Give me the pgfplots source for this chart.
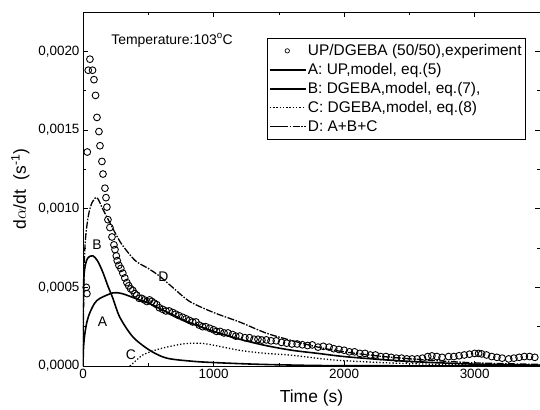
\documentclass[border=0pt]{standalone}
\usepackage{pgfplots}
\pgfplotsset{compat=1.18}
\usepackage{fontspec}
\setmainfont{Liberation Sans}
\begin{document}
\begin{tikzpicture}
\begin{axis}[name=ax, scale only axis, width=457bp, height=354bp,
  xmin=0, xmax=3500, ymin=0, ymax=0.00225,
  xtick={0,1000,2000,3000}, minor x tick num=1,
  ytick={0,0.0005,0.001,0.0015,0.002}, minor y tick num=1,
  scaled y ticks=false,
  xticklabel style={/pgf/number format/.cd, 1000 sep={}},
  yticklabel style={/pgf/number format/.cd, fixed, fixed zerofill, precision=4, use comma},
  /pgf/number format/assume math mode=true,
  ticklabel style={font=\fontsize{13.5}{15}\selectfont},
  tick align=inside, major tick length=5bp, minor tick length=3bp,
  axis line style={line width=0.8pt}, every tick/.style={line width=0.7pt, black},
  xlabel={Time (s)}, ylabel={d$\alpha$/dt\ \ (s\textsuperscript{-1})},
  label style={font=\fontsize{17.5}{19}\selectfont},
  xlabel style={yshift=-4bp},
  ylabel style={yshift=2bp},
  legend style={at={(0.969,0.927)}, anchor=north east, draw=black,
     font=\fontsize{15.5}{17}\selectfont, row sep=2.3pt, inner xsep=2pt, inner ysep=4.5pt, cells={anchor=west}},
  legend image code/.code={\draw[mark repeat=2,mark phase=2,#1] plot coordinates {(0cm,0cm) (0.62cm,0cm) (1.25cm,0cm)};},
  legend cell align=left,
]
\addlegendimage{only marks, mark=o, mark size=2.2pt, line width=0.7pt}
\addlegendentry{UP/DGEBA (50/50),experiment}
\addplot[only marks, mark=o, mark size=3.4pt, line width=0.9pt, mark options={fill=white}, forget plot] coordinates {
(25,0.0005)(30,0.00046)(33,0.00136)(40,0.00188)(53,0.00195)(73,0.00188)(84,0.00182)(96,0.00172)(107,0.00158)(122,0.00149)(130,0.0014)(145,0.0013)(153,0.00122)(168,0.00113)(176,0.00107)(183,0.00101)(191,0.00093)(206,0.00088)(222,0.00082)(237,0.00077)(245,0.00074)(255,0.0007)(262,0.00067)(275,0.00064)(290,0.00062)(305,0.00059)(320,0.00056)(336,0.00053)(350,0.00051)(365,0.00049)(382,0.00048)(397,0.00046)(412,0.00045)(430,0.00043)(450,0.00043)(470,0.00042)(489,0.00041)(510,0.00042)(527,0.00041)(545,0.0004)(565,0.00039)(585,0.00037)(611,0.00036)(635,0.00035)(660,0.00035)(687,0.00034)(710,0.00033)(735,0.00032)(763,0.00031)(790,0.0003)(815,0.00029)(840,0.00028)(865,0.00028)(890,0.00026)(916,0.00025)(940,0.00025)(970,0.00024)(1000,0.00023)(1023,0.00022)(1050,0.00022)(1080,0.00021)(1110,0.00021)(1145,0.0002)(1170,0.00019)(1200,0.00019)(1240,0.00018)(1275,0.00018)(1310,0.00017)(1340,0.00017)(1370,0.000165)(1404,0.000166)(1440,0.00016)(1480,0.00016)(1520,0.00015)(1560,0.000145)(1600,0.00014)(1640,0.00014)(1680,0.000135)(1720,0.00013)(1756,0.000134)(1800,0.00012)(1840,0.000125)(1885,0.00012)(1920,0.00011)(1960,0.000105)(2000,0.0001)(2040,0.00009)(2080,0.00009)(2120,0.00008)(2160,0.00008)(2200,0.00007)(2240,0.00007)(2280,0.00006)(2320,0.00006)(2360,0.000055)(2400,0.00005)(2440,0.00005)(2480,0.000045)(2520,0.000045)(2560,0.000045)(2600,0.00005)(2640,0.00006)(2672,0.000064)(2710,0.00006)(2750,0.000055)(2800,0.00006)(2840,0.00006)(2880,0.000065)(2920,0.00007)(2960,0.000075)(3000,0.00008)(3030,0.00008)(3053,0.000077)(3090,0.00007)(3130,0.00006)(3170,0.000055)(3210,0.00005)(3260,0.000045)(3300,0.00005)(3340,0.000055)(3380,0.00006)(3420,0.00006)(3460,0.000055)
};
\addplot[black, line width=1.6pt, smooth] coordinates {
(0,0)(3,0.0001)(8,0.00016)(15,0.00021)(30,0.00028)(53,0.00034)(90,0.0004)(130,0.00043)(230,0.000465)(300,0.00046)(400,0.00043)(500,0.0004)(600,0.00036)(700,0.00032)(800,0.00028)(900,0.00025)(1000,0.00022)(1200,0.00017)(1400,0.00013)(1600,0.0001)(1800,0.00008)(2000,0.00006)(2300,0.00004)(2600,0.000025)(3000,0.000012)(3500,0.000005)
};
\addlegendentry{A: UP,model, eq.(5)}
\addplot[black, line width=1.6pt, smooth] coordinates {
(0,0)(1,0.0003)(3,0.00048)(8,0.00058)(20,0.00065)(40,0.00069)(76,0.0007)(110,0.00067)(150,0.0006)(190,0.00051)(229,0.00043)(282,0.00031)(382,0.000185)(511,0.0001)(641,0.00005)(840,0.00003)(1000,0.000022)(1300,0.000012)(1600,0.000006)(2000,0.000002)(3500,0)
};
\addlegendentry{B: DGEBA,model, eq.(7),}
\addplot[black, line width=1.3pt, dotted, smooth] coordinates {
(359,0)(400,0.00003)(458,0.00007)(550,0.0001)(641,0.00012)(763,0.00014)(850,0.000145)(950,0.00014)(1198,0.0001)(1400,0.00008)(1580,0.00007)(1900,0.00004)(2200,0.000025)(2500,0.000015)(3000,0.000006)(3500,0.000002)
};
\addlegendentry{C: DGEBA,model, eq.(8)}
\addplot[black, line width=1.3pt, dash pattern=on 7pt off 1.5pt on 1.5pt off 1.5pt, smooth] coordinates {
(0,0)(5,0.0004)(15,0.00076)(40,0.00095)(70,0.00104)(107,0.00107)(150,0.001)(200,0.00092)(250,0.00084)(300,0.00077)(400,0.00067)(500,0.00062)(588,0.00057)(700,0.00049)(817,0.00041)(1000,0.00034)(1198,0.00028)(1400,0.00021)(1580,0.000166)(1800,0.00012)(2000,0.00009)(2300,0.00006)(2600,0.00004)(3000,0.00002)(3500,0.00001)
};
\addlegendentry{D: A+B+C}
\node[anchor=west, font=\fontsize{14}{15}\selectfont] at (axis cs:190,0.00207) {Temperature:103\textsuperscript{o}C};
\node[font=\fontsize{14}{15}\selectfont] at (axis cs:107,0.00077) {B};
\node[font=\fontsize{14}{15}\selectfont] at (axis cs:150,0.00028) {A};
\node[font=\fontsize{14}{15}\selectfont] at (axis cs:366,0.00007) {C};
\node[font=\fontsize{14}{15}\selectfont] at (axis cs:615,0.00057) {D};
\end{axis}
\pgfresetboundingbox
\useasboundingbox ([xshift=-83bp,yshift=-44bp]ax.south west) rectangle ([yshift=12bp]ax.north east);
\end{tikzpicture}
\end{document}
